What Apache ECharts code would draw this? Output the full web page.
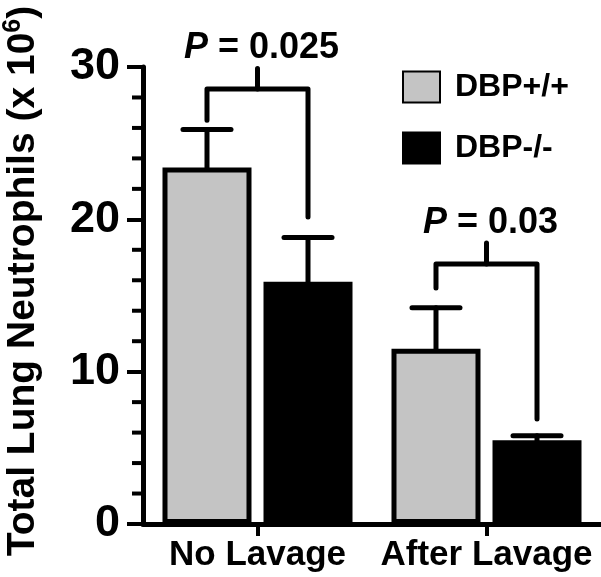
<!DOCTYPE html>
<html>
<head>
<meta charset="utf-8">
<script src="https://cdn.jsdelivr.net/npm/echarts@6/dist/echarts.min.js"></script>
<style>
  html, body { margin: 0; padding: 0; background: #fff; }
  #chart { width: 601px; height: 577px; }
</style>
</head>
<body>
<div id="chart"></div>
<script>
// ---- data ----
const categories = ['No Lavage', 'After Lavage'];
const seriesNames = ['DBP+/+', 'DBP-/-'];
const wtMean = [23.4, 11.5];
const wtSem = [2.5, 2.7];
const koMean = [15.9, 5.5];
const koSem = [2.9, 0.3];
const pValues = ['0.025', '0.03'];
const bracketLeftEnd = [26.5, 15.5];
const bracketRightEnd = [20.15, 6.9];
const bracketLevel = [28.55, 17.07];
const bracketPeak = [29.9, 18.45];
const yMin = 0, yMax = 30, yInterval = 10;
const yMinorTicks = [2, 4, 6, 8, 12, 14, 16, 18, 22, 24, 26, 28];

// ---- styles ----
const FONT = 'Liberation Sans, Arial, Helvetica, sans-serif';
const BAR_W = 89;
const BAR_GAP = 0.135;
const HALF_OFF = BAR_W * (1 + BAR_GAP) / 2;
const CAP_HALF = 24;
const LW = 5;
const MINOR_LEN = 11;

function errRender(sign) {
  return function (params, api) {
    const cat = api.value(0), mean = api.value(1), sem = api.value(2);
    const p0 = api.coord([cat, mean]);
    const p1 = api.coord([cat, mean + sem]);
    const x = p0[0] + sign * HALF_OFF;
    const st = { stroke: '#000', lineWidth: LW, lineCap: 'round' };
    return {
      type: 'group',
      children: [
        { type: 'line', shape: { x1: x, y1: p0[1], x2: x, y2: p1[1] }, style: st },
        { type: 'line', shape: { x1: x - CAP_HALF, y1: p1[1], x2: x + CAP_HALF, y2: p1[1] }, style: st }
      ]
    };
  };
}

function minorTickRender(params, api) {
  const p = api.coord([0, api.value(1)]);
  const x0 = (params.coordSys && params.coordSys.x != null) ? params.coordSys.x : 143;
  return {
    type: 'line',
    shape: { x1: x0 - MINOR_LEN, y1: p[1], x2: x0, y2: p[1] },
    style: { stroke: '#000', lineWidth: 4 }
  };
}

function bracketRender(params, api) {
  const cat = api.value(0);
  const l = api.coord([cat, api.value(1)]);
  const r = api.coord([cat, api.value(2)]);
  const lv = api.coord([cat, api.value(3)]);
  const pk = api.coord([cat, api.value(4)]);
  const cx = lv[0];
  const xl = cx - HALF_OFF, xr = cx + HALF_OFF;
  const st = { stroke: '#000', lineWidth: LW, lineCap: 'round', lineJoin: 'round', fill: null };
  return {
    type: 'group',
    children: [
      { type: 'polyline', shape: { points: [[xl, l[1]], [xl, lv[1]], [xr, lv[1]], [xr, r[1]]] }, style: st },
      { type: 'line', shape: { x1: cx, y1: lv[1], x2: cx, y2: pk[1] }, style: st },
      {
        type: 'text', x: cx + 4, y: pk[1] - 2,
        style: {
          text: '{i|P} = ' + pValues[params.dataIndex],
          rich: { i: { fontStyle: 'italic', fontWeight: 'bold', fontSize: 36, fontFamily: FONT, fill: '#000' } },
          fontSize: 36, fontWeight: 'bold', fontFamily: FONT, fill: '#000',
          align: 'center', verticalAlign: 'bottom'
        }
      }
    ]
  };
}

const chart = echarts.init(document.getElementById('chart'), null, { renderer: 'canvas' });
chart.setOption({
  animation: false,
  backgroundColor: '#fff',
  grid: { left: 143, right: 0, top: 67, bottom: 53, containLabel: false },
  legend: {
    data: seriesNames,
    orient: 'vertical',
    left: 397, top: 65.5,
    icon: 'rect',
    itemWidth: 37, itemHeight: 31,
    itemGap: 28,
    textStyle: { fontSize: 32, fontWeight: 'bold', fontFamily: FONT, color: '#000', padding: [0, 0, 0, 10], lineHeight: 31 },
    selectedMode: false
  },
  xAxis: {
    type: 'category',
    data: categories,
    axisLine: { lineStyle: { color: '#000', width: LW } },
    axisTick: { show: true, alignWithLabel: true, length: 12, lineStyle: { color: '#000', width: 4 } },
    axisLabel: { interval: 0, fontSize: 35, fontWeight: 'bold', fontFamily: FONT, color: '#000', margin: 14 }
  },
  yAxis: {
    type: 'value',
    min: yMin, max: yMax, interval: yInterval,
    splitLine: { show: false },
    axisLine: { show: true, lineStyle: { color: '#000', width: LW } },
    axisTick: { show: true, length: 16, lineStyle: { color: '#000', width: 4 } },
    axisLabel: { fontSize: 45, fontWeight: 'bold', fontFamily: FONT, color: '#000', margin: 23 }
  },
  graphic: [{
    type: 'text',
    x: 23, y: 281,
    rotation: Math.PI / 2,
    style: {
      text: '{n|Total Lung Neutrophils (x 10}{s|6}{n|)}',
      rich: {
        n: { fontSize: 39, fontWeight: 'bold', fontFamily: FONT, fill: '#000', lineHeight: 44 },
        s: { fontSize: 25, fontWeight: 'bold', fontFamily: FONT, fill: '#000', lineHeight: 26, verticalAlign: 'top' }
      },
      align: 'center', verticalAlign: 'middle'
    }
  }],
  series: [
    {
      name: seriesNames[0], type: 'bar', data: wtMean,
      barWidth: BAR_W, barGap: (BAR_GAP * 100) + '%',
      itemStyle: { color: '#c4c4c4', borderColor: '#000', borderWidth: LW }
    },
    {
      name: seriesNames[1], type: 'bar', data: koMean,
      barWidth: BAR_W,
      itemStyle: { color: '#000', borderColor: '#000', borderWidth: LW }
    },
    {
      type: 'custom', name: 'errWT', clip: false, z: 3,
      renderItem: errRender(-1),
      data: categories.map((c, i) => [i, wtMean[i], wtSem[i]])
    },
    {
      type: 'custom', name: 'errKO', clip: false, z: 3,
      renderItem: errRender(1),
      data: categories.map((c, i) => [i, koMean[i], koSem[i]])
    },
    {
      type: 'custom', name: 'brackets', clip: false, z: 3,
      renderItem: bracketRender,
      data: categories.map((c, i) => [i, bracketLeftEnd[i], bracketRightEnd[i], bracketLevel[i], bracketPeak[i]])
    },
    {
      type: 'custom', name: 'minorTicks', clip: false, z: 10,
      renderItem: minorTickRender,
      data: yMinorTicks.map(v => [0, v])
    }
  ]
});
</script>
</body>
</html>
